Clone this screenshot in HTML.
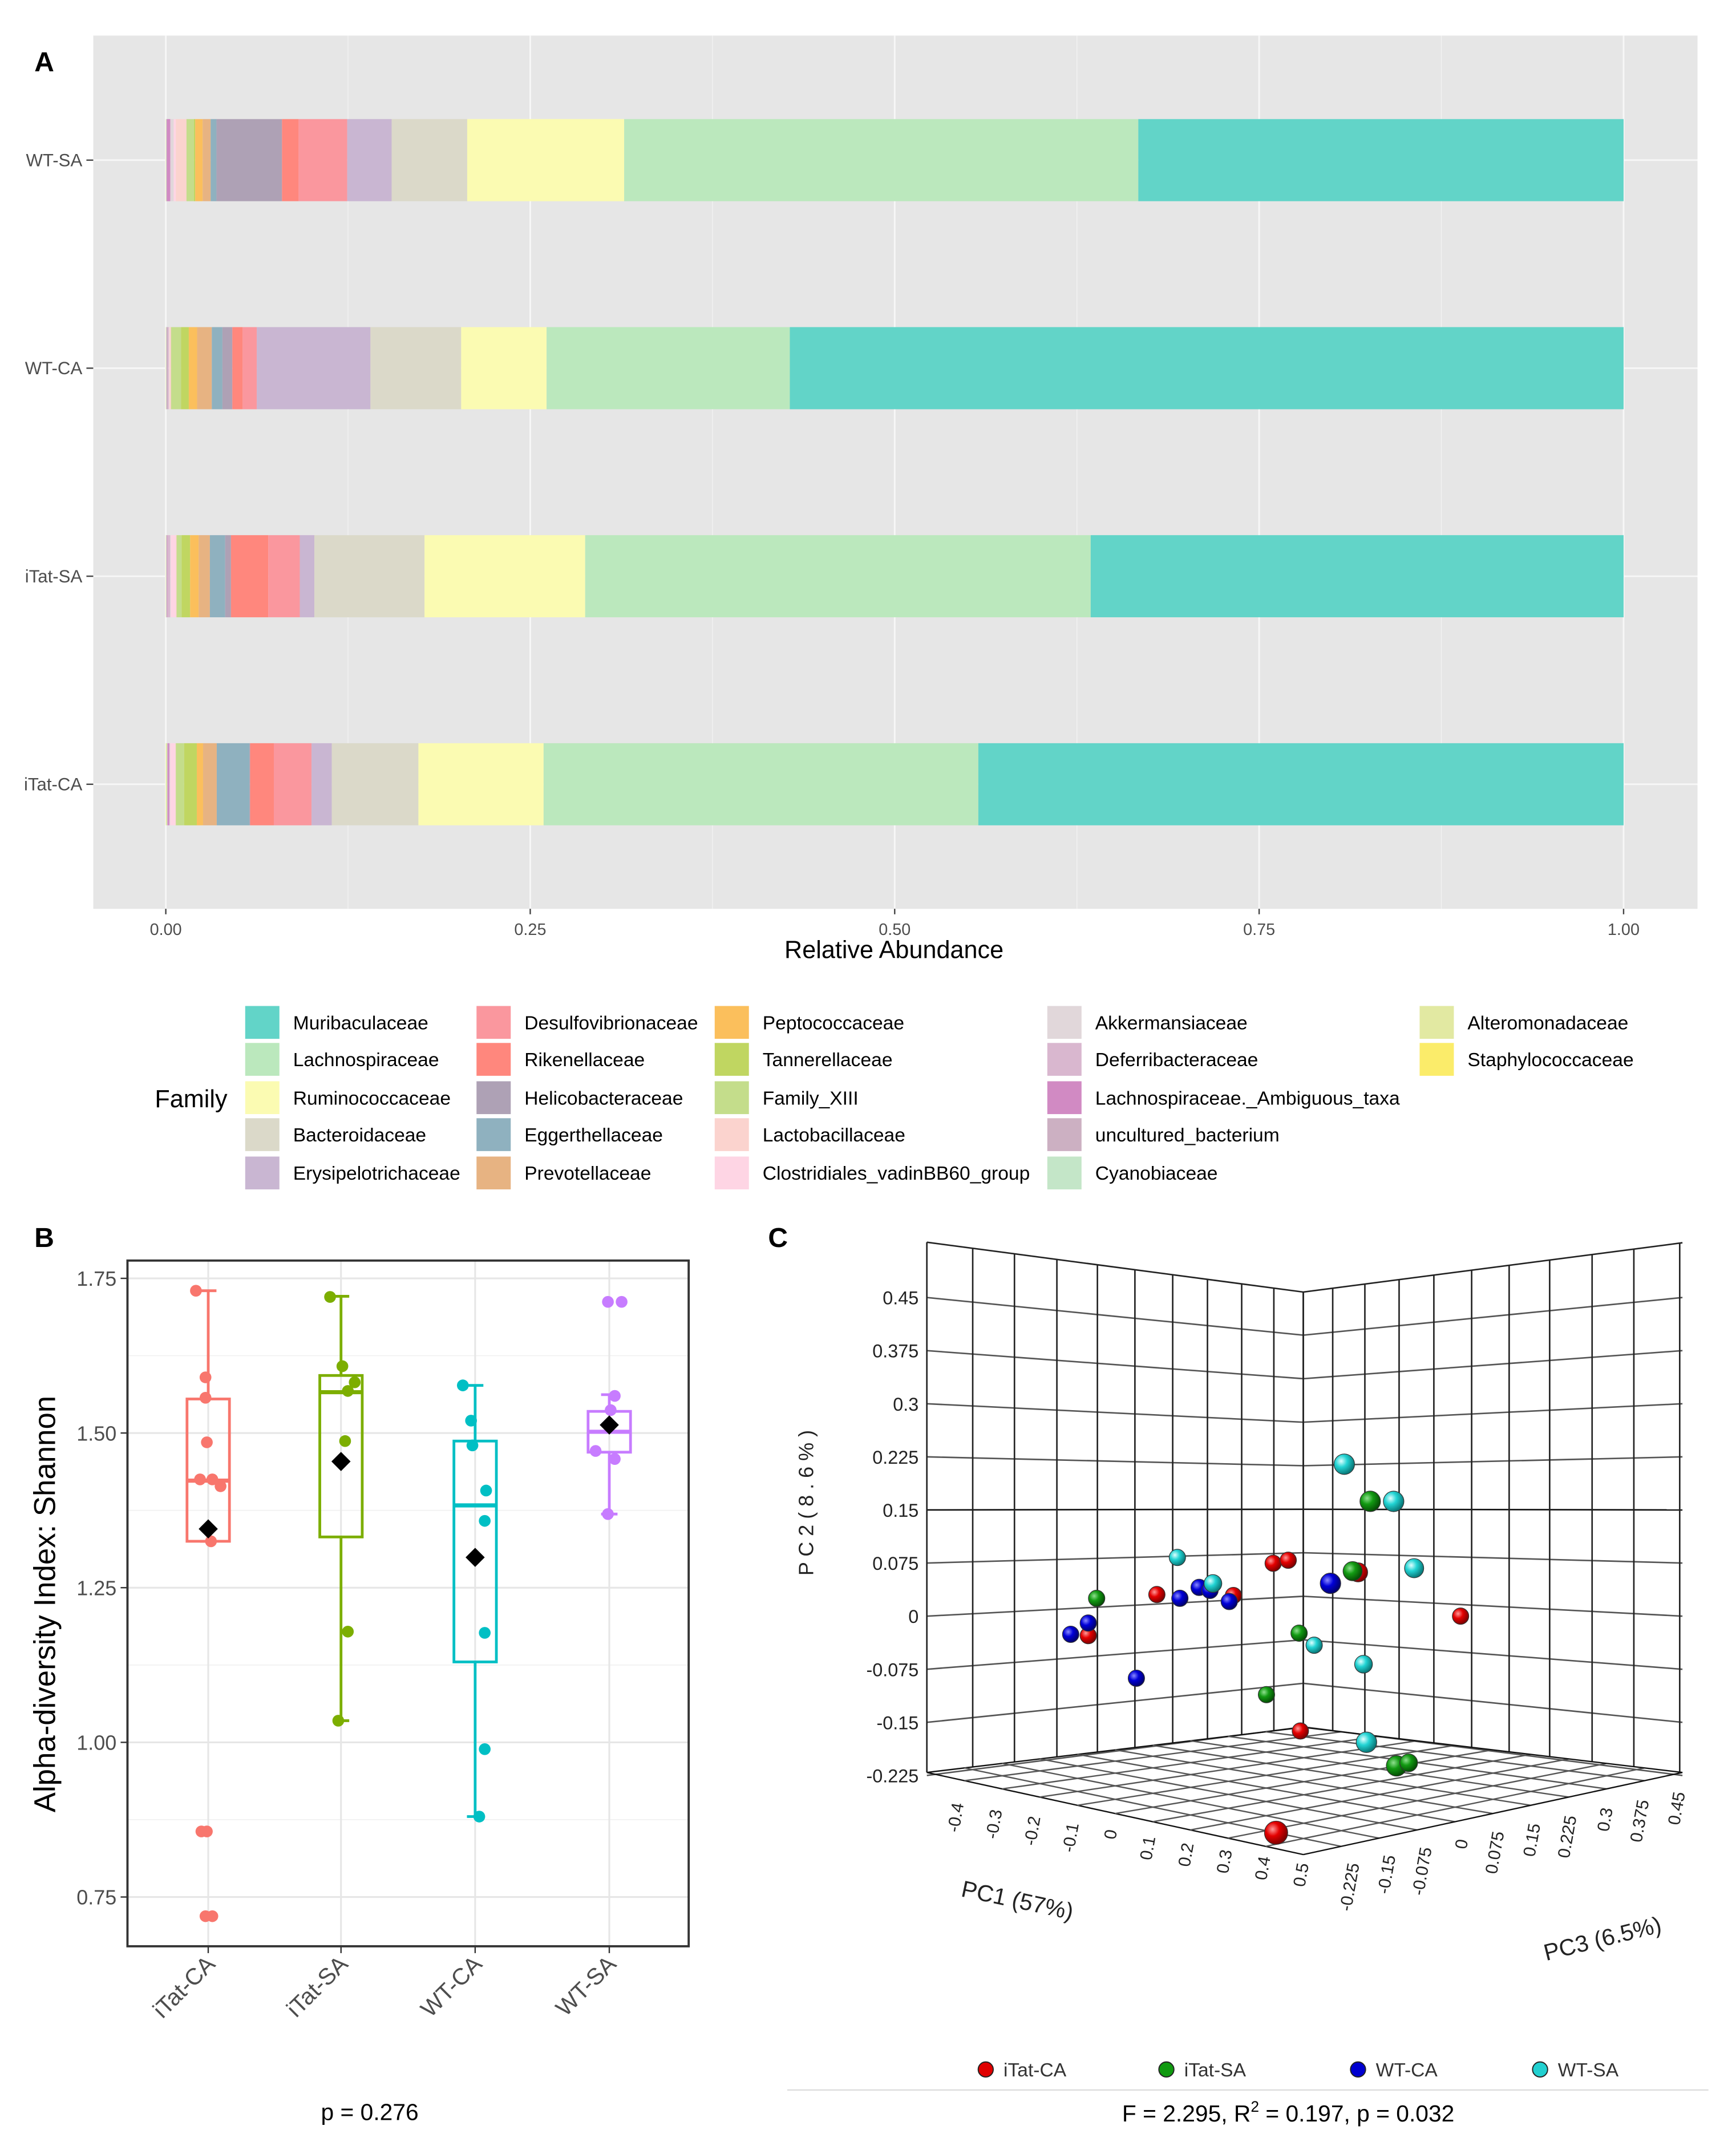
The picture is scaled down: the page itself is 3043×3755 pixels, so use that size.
<!DOCTYPE html>
<html><head><meta charset="utf-8">
<style>
html,body{margin:0;padding:0;background:#fff;}
svg{display:block;font-family:"Liberation Sans",Arial,sans-serif;}
</style></head>
<body>
<svg id="fig" xmlns="http://www.w3.org/2000/svg" width="3043" height="3755" viewBox="0 0 1268 1565">
<defs>
<radialGradient id="gRed" cx="35%" cy="35%" r="65%"><stop offset="0" stop-color="#ff9a9a"/><stop offset="0.45" stop-color="#e40000"/><stop offset="1" stop-color="#800000"/></radialGradient>
<radialGradient id="gGreen" cx="35%" cy="35%" r="65%"><stop offset="0" stop-color="#8fe08f"/><stop offset="0.45" stop-color="#129a12"/><stop offset="1" stop-color="#055005"/></radialGradient>
<radialGradient id="gBlue" cx="35%" cy="35%" r="65%"><stop offset="0" stop-color="#8a8aff"/><stop offset="0.45" stop-color="#0000d8"/><stop offset="1" stop-color="#000070"/></radialGradient>
<radialGradient id="gCyan" cx="35%" cy="35%" r="65%"><stop offset="0" stop-color="#e0ffff"/><stop offset="0.45" stop-color="#22d4d4"/><stop offset="1" stop-color="#0a7a7a"/></radialGradient>
</defs>
<g id="panelA"></g>
<g id="legendA"></g>
<g id="panelB"></g>
<g id="panelC"></g>
</svg>
<script>
// ---------- Panel A data ----------
const samples = ["WT-SA","WT-CA","iTat-SA","iTat-CA"];
const families = ["Muribaculaceae","Lachnospiraceae","Ruminococcaceae","Bacteroidaceae","Erysipelotrichaceae","Desulfovibrionaceae","Rikenellaceae","Helicobacteraceae","Eggerthellaceae","Prevotellaceae","Peptococcaceae","Tannerellaceae","Family_XIII","Lactobacillaceae","Clostridiales_vadinBB60_group","Akkermansiaceae","Deferribacteraceae","Lachnospiraceae._Ambiguous_taxa","uncultured_bacterium","Cyanobiaceae","Alteromonadaceae","Staphylococcaceae"];
const famColors = ["#62d4c8","#bbe8bd","#fbfbb2","#dbd9c9","#c9b6d2","#fa979e","#ff877d","#aea1b5","#8fb1bf","#e7b382","#fbbf5c","#c0d661","#c4dd8b","#fbd3ce","#fed5e4","#e1d7da","#d9b7cf","#d18ac3","#ccb0c2","#c4e6c8","#e2e9a2","#fbec6a"];
const abWTSA  = [0.3333,0.3531,0.1078,0.0519,0.0305,0.0334,0.0114,0.0450,0.0040,0.0055,0.0051,0.0009,0.0051,0.0073,0.0015,0.0020,0.0005,0.0022,0.0003,0.0002,0.0001,0.0001];
const abWTCA  = [0.5728,0.1671,0.0587,0.0623,0.0781,0.0097,0.0071,0.0068,0.0073,0.0101,0.0057,0.0053,0.0069,0.0010,0.0003,0.0003,0.0004,0.0002,0.0010,0.0002,0.0001,0.0001];
const abITSA  = [0.3662,0.3474,0.1104,0.0757,0.0100,0.0217,0.0256,0.0040,0.0105,0.0077,0.0059,0.0058,0.0035,0.0004,0.0036,0.0004,0.0019,0.0003,0.0004,0.0002,0.0001,0.0001];
const abITCA  = [0.4432,0.2986,0.0860,0.0595,0.0139,0.0259,0.0163,0.0004,0.0225,0.0094,0.0043,0.0087,0.0057,0.0003,0.0036,0.0003,0.0003,0.0012,0.0002,0.0002,0.0007,0.0001];
const abundance = [abWTSA,abWTCA,abITSA,abITCA];
const xTicksA = [0,0.25,0.5,0.75,1];
const xTickLabelsA = ["0.00","0.25","0.50","0.75","1.00"];

// ---------- Panel B data ----------
const groupsB = ["iTat-CA","iTat-SA","WT-CA","WT-SA"];
const colorsB = ["#f8766d","#7cae00","#00bfc4","#c77cff"];
const whiskHi = [1.73,1.721,1.577,1.562];
const boxHi   = [1.555,1.593,1.487,1.535];
const medians = [1.423,1.566,1.383,1.502];
const boxLo   = [1.325,1.332,1.130,1.469];
const whiskLo = [1.325,1.035,0.880,1.369];
const meansB  = [1.345,1.454,1.299,1.513];
const ptsITCA = [1.73,1.59,1.557,1.485,1.425,1.425,1.414,1.325,0.856,0.856,0.719,0.719];
const ptsITSA = [1.72,1.608,1.568,1.582,1.487,1.179,1.035];
const ptsWTCA = [1.577,1.52,1.48,1.407,1.358,1.177,0.989,0.880];
const ptsWTSA = [1.712,1.712,1.56,1.537,1.471,1.458,1.369];
const jitterB = [[-9,-2,-2,-1,-6,3,9,2,-5,-1,-2,3],[-8,1,5,10,3,5,-2],[-9,-3,-2,8,7,7,7,3],[-1,9,4,1,-10,4,-1]];
const ptsB = [ptsITCA,ptsITSA,ptsWTCA,ptsWTSA];
const yTicksB = [0.75,1.0,1.25,1.5,1.75];
const yTickLabelsB = ["0.75","1.00","1.25","1.50","1.75"];

// ---------- Panel C data ----------
const groupsC = ["iTat-CA","iTat-SA","WT-CA","WT-SA"];
const gradC = ["url(#gRed)","url(#gGreen)","url(#gBlue)","url(#gCyan)"];
const legColC = ["#e00000","#109a10","#0000d0","#22d0d0"];
const pcGroup = [0,0,0,0,0,0,0,0,0, 1,1,1,1,1,1,1, 2,2,2,2,2,2,2,2, 3,3,3,3,3,3,3,3];
const pc1 = [0.126,0.162,-0.152,0.031,-0.316,0.329,0.574,0.191,0.133, -0.296,0.358,0.316,0.188,0.110,0.421,0.450, -0.358,-0.316,-0.201,-0.097,-0.051,-0.025,0.021,0.263, 0.296,0.414,-0.103,-0.018,0.463,0.224,0.342,0.349];
const pc2 = [0.140,0.150,0.050,0.075,-0.039,0.155,0.121,-0.117,-0.287, 0.023,0.272,0.155,0.038,-0.071,-0.139,-0.130, -0.043,-0.019,-0.090,0.052,0.076,0.075,0.064,0.128, 0.322,0.280,0.116,0.087,0.181,0.024,0.011,-0.112];
const pc3 = [0,0,0,0,0,0,0,0,0, 0,0,0,0,0,0,0, 0,0,0,0,0,0,0,0, 0,0,0,0,0,0,0,0];
const ptSize = [6,6,6,6,6,7,6,6,8.5, 6,7.5,7,6,6,7.5,6.5, 6,6,6,6,6,6,6,7.5, 7.5,7.5,6,6.5,7,6,6.5,7.5];
const pc2Ticks = ["0.45","0.375","0.3","0.225","0.15","0.075","0","-0.075","-0.15","-0.225"];
const pc1Ticks = ["-0.4","-0.3","-0.2","-0.1","0","0.1","0.2","0.3","0.4","0.5"];
const pc3Ticks = ["-0.225","-0.15","-0.075","0","0.075","0.15","0.225","0.3","0.375","0.45"];

const NS="http://www.w3.org/2000/svg";
function mk(tag, attrs, parent){const e=document.createElementNS(NS,tag);for(const k in attrs)e.setAttribute(k,attrs[k]);parent.appendChild(e);return e;}
function txt(s, attrs, parent){const e=mk('text',attrs,parent);e.textContent=s;return e;}

// ================= Panel A =================
const A=document.getElementById('panelA');
const ax0=121, ax1=1186;
const xA=v=>ax0+v*(ax1-ax0);
const barY=[117,269,421,573];
let e;
e=mk('rect',{x:68,y:26,width:1172,height:638,fill:'#e6e6e6'},A);


for(let i=0;i<4;i++){
  const m=xA(xTicksA[i]+0.125);
  e=mk('line',{x1:m,x2:m,y1:26,y2:664,stroke:'#f2f2f2','stroke-width':0.6},A);
  
  
}
xTicksA.forEach((t,i)=>{
  e=mk('line',{x1:xA(t),x2:xA(t),y1:26,y2:664,stroke:'#f7f7f7','stroke-width':1.2},A);
  
  
  e=mk('line',{x1:xA(t),x2:xA(t),y1:664,y2:668,stroke:'#444','stroke-width':1},A);
  
  
  e=txt(xTickLabelsA[i],{x:xA(t),y:683,'font-size':12,fill:'#4d4d4d','text-anchor':'middle'},A);
  
  
});
samples.forEach((s,si)=>{
  e=mk('line',{x1:68,x2:1240,y1:barY[si],y2:barY[si],stroke:'#f7f7f7','stroke-width':1.2},A);
  
  
  e=mk('line',{x1:63,x2:68,y1:barY[si],y2:barY[si],stroke:'#444','stroke-width':1},A);
  
  
  e=txt(s,{x:60,y:barY[si]+4.5,'font-size':13,fill:'#4d4d4d','text-anchor':'end'},A);
  
  
  const vals=abundance[si];
  const tot=vals.reduce((a,b)=>a+b,0);
  let cum=0;
  for(let f=families.length-1;f>=0;f--){
    const v=vals[f]/tot;
    e=mk('rect',{x:xA(cum),y:barY[si]-30,width:Math.max(0,xA(cum+v)-xA(cum)),height:60,fill:famColors[f]},A);
    
    
    cum+=v;
  }
});
e=txt('Relative Abundance',{x:653,y:700,'font-size':18,fill:'#000','text-anchor':'middle'},A);


e=txt('A',{x:25,y:52,'font-size':20,'font-weight':'bold',fill:'#000'},A);



// ================= Legend A =================
const L=document.getElementById('legendA');
e=txt('Family',{x:113,y:809,'font-size':18,fill:'#000'},L);


const colX=[179,348,522,765,1037];
const rowY=[747,774,802,829,857];
families.forEach((f,i)=>{
  const c=Math.floor(i/5), r=i%5;
  e=mk('rect',{x:colX[c],y:rowY[r]-12,width:25,height:24,fill:famColors[i]},L);
  
  
  e=txt(f,{x:colX[c]+35,y:rowY[r]+5,'font-size':14,fill:'#000'},L);
  
  
});

// ================= Panel B =================
const B=document.getElementById('panelB');
const bx0=93,bx1=503,by0=921,by1=1422;
const yB=v=>1386-(v-0.75)*452;
const xCat=[152,249,347,445];
e=mk('rect',{x:bx0,y:by0,width:bx1-bx0,height:by1-by0,fill:'#fff'},B);


for(let i=0;i<yTicksB.length-1;i++){
  const m=yB(yTicksB[i]+0.125);
  e=mk('line',{x1:bx0,x2:bx1,y1:m,y2:m,stroke:'#f0f0f0','stroke-width':0.7},B);
  
  
}
yTicksB.forEach((t,i)=>{
  e=mk('line',{x1:bx0,x2:bx1,y1:yB(t),y2:yB(t),stroke:'#e6e6e6','stroke-width':1.3},B);
  
  
  e=mk('line',{x1:bx0-5,x2:bx0,y1:yB(t),y2:yB(t),stroke:'#333','stroke-width':1},B);
  
  
  e=txt(yTickLabelsB[i],{x:bx0-8,y:yB(t)+5.5,'font-size':15,fill:'#4d4d4d','text-anchor':'end'},B);
  
  
});
xCat.forEach(x=>{
  e=mk('line',{x1:x,x2:x,y1:by0,y2:by1,stroke:'#e6e6e6','stroke-width':1.3},B);
  
  
});
groupsB.forEach((g,i)=>{
  const x=xCat[i], c=colorsB[i], hw=15.5;
  e=mk('line',{x1:x,x2:x,y1:yB(whiskHi[i]),y2:yB(boxHi[i]),stroke:c,'stroke-width':2},B);
  
  
  e=mk('line',{x1:x,x2:x,y1:yB(boxLo[i]),y2:yB(whiskLo[i]),stroke:c,'stroke-width':2},B);
  
  
  e=mk('line',{x1:x-6,x2:x+6,y1:yB(whiskHi[i]),y2:yB(whiskHi[i]),stroke:c,'stroke-width':2},B);
  
  
  e=mk('line',{x1:x-6,x2:x+6,y1:yB(whiskLo[i]),y2:yB(whiskLo[i]),stroke:c,'stroke-width':2},B);
  
  
  e=mk('rect',{x:x-hw,y:yB(boxHi[i]),width:2*hw,height:yB(boxLo[i])-yB(boxHi[i]),fill:'#fff','fill-opacity':0,stroke:c,'stroke-width':2},B);
  
  
  e=mk('line',{x1:x-hw,x2:x+hw,y1:yB(medians[i]),y2:yB(medians[i]),stroke:c,'stroke-width':3},B);
  
  
  ptsB[i].forEach((v,j)=>{
    e=mk('circle',{cx:x+jitterB[i][j],cy:yB(v),r:4.3,fill:c},B);
    
    
  });
  const my=yB(meansB[i]);
  e=mk('polygon',{points:`${x},${my-7} ${x+7},${my} ${x},${my+7} ${x-7},${my}`,fill:'#000'},B);
  
  
  e=txt(g,{x:0,y:0,'font-size':17,fill:'#4d4d4d','text-anchor':'end',transform:`translate(${x+6},${by1+14}) rotate(-45)`},B);
  
  
  e=mk('line',{x1:x,x2:x,y1:by1,y2:by1+5,stroke:'#333','stroke-width':1},B);
  
  
});
e=mk('rect',{x:bx0,y:by0,width:bx1-bx0,height:by1-by0,fill:'none',stroke:'#333','stroke-width':1.6},B);


e=txt('Alpha-diversity Index: Shannon',{x:0,y:0,'font-size':22,fill:'#000','text-anchor':'middle',transform:'translate(40,1172) rotate(-90)'},B);


e=txt('B',{x:25,y:911,'font-size':20,'font-weight':'bold',fill:'#000'},B);


e=txt('p = 0.276',{x:270,y:1549,'font-size':17,fill:'#000','text-anchor':'middle'},B);



// ================= Panel C =================
const C=document.getElementById('panelC');
const lerp=(a,b,t)=>a+(b-a)*t;
const TL=[677,907.6],TC=[952,944],TR=[1229,908];
const BLc=[677,1295],BCc=[952,1262],BRc=[1229,1295],FR=[952,1355];
const wallVx=[677,710.5,741,772,801.6,829,856.6,882,907,930.5,952];
function line(x1,y1,x2,y2,col,w,name){
  const l=mk('line',{x1:x1,y1:y1,x2:x2,y2:y2,stroke:col,'stroke-width':w},C);
  
  
  return l;
}
line(TL[0],TL[1],TC[0],TC[1],'#222',1.1,'wall-top-edge');
line(TC[0],TC[1],TR[0],TR[1],'#222',1.1,'wall-top-edge');
pc2Ticks.forEach((t,i)=>{
  const yl=948+38.8*i, yc=975.5+31.8*i;
  const col = t==='0.15' ? '#111' : '#555';
  line(677,yl,952,yc,col,1.1,'left-wall-gridline');
  line(952,yc,1229,yl,col,1.1,'right-wall-gridline');
  e=txt(t,{x:671,y:yl+5,'font-size':13.5,fill:'#222','text-anchor':'end'},C);
  
  
});
wallVx.forEach(x=>{
  const t=(x-677)/(952-677);
  line(x,lerp(TL[1],TC[1],t),x,lerp(BLc[1],BCc[1],t),'#222',1.1,'left-wall-vertical');
  const xr=952+(952-x);
  line(xr,lerp(TR[1],TC[1],t),xr,lerp(BRc[1],BCc[1],t),'#222',1.1,'right-wall-vertical');
});
function floorP(u,w){
  const ax=lerp(BLc[0],FR[0],u), ay=lerp(BLc[1],FR[1],u);
  const bx=lerp(BCc[0],BRc[0],u), by=lerp(BCc[1],BRc[1],u);
  return [lerp(ax,bx,w),lerp(ay,by,w)];
}
for(let k=0;k<=10;k++){
  const a=floorP(k/10,0), b=floorP(k/10,1);
  line(a[0],a[1],b[0],b[1],k===0||k===10?'#111':'#555',1,'floor-gridline');
  const c2=floorP(0,k/10), d=floorP(1,k/10);
  line(c2[0],c2[1],d[0],d[1],k===0||k===10?'#111':'#555',1,'floor-gridline');
}
pc1Ticks.forEach((t,i)=>{
  const u=i/9;
  const x=lerp(700,952,u), y=lerp(1324,1368,u);
  e=txt(t,{x:0,y:0,'font-size':12.5,fill:'#222','text-anchor':'end',transform:`translate(${x+4},${y-6}) rotate(-80)`},C);
  
  
});
pc3Ticks.forEach((t,i)=>{
  const u=i/9;
  const x=lerp(989,1227,u), y=lerp(1362,1310,u);
  e=txt(t,{x:0,y:0,'font-size':12.5,fill:'#222','text-anchor':'end',transform:`translate(${x+4},${y}) rotate(-80)`},C);
  
  
});
const projX=(a,b,c)=>677+(a+0.4)*305.6+(c+0.225)*410;
const projY=(a,b,c)=>1295+(a+0.4)*66.7-(c+0.225)*89-(b+0.225)*460;
pc1.forEach((v,i)=>{
  e=mk('circle',{cx:projX(v,pc2[i],pc3[i]),cy:projY(v,pc2[i],pc3[i]),r:ptSize[i],fill:gradC[pcGroup[i]],stroke:'#333','stroke-width':0.5},C);
  
  
});
e=txt('P C 2   ( 8 . 6 % )',{x:0,y:0,'font-size':15,fill:'#222','text-anchor':'middle',transform:'translate(594,1098) rotate(-90)'},C);


e=txt('PC1 (57%)',{x:0,y:0,'font-size':17,fill:'#222','text-anchor':'middle',transform:'translate(742,1394) rotate(12)'},C);


e=txt('PC3 (6.5%)',{x:0,y:0,'font-size':17,fill:'#222','text-anchor':'middle',transform:'translate(1172,1422) rotate(-14)'},C);


e=txt('C',{x:561,y:911,'font-size':20,'font-weight':'bold',fill:'#000'},C);


const legX=[720,852,992,1125];
groupsC.forEach((g,i)=>{
  e=mk('circle',{cx:legX[i],cy:1512,r:5.5,fill:legColC[i],stroke:'#222','stroke-width':0.8},C);
  
  
  e=txt(g,{x:legX[i]+13,y:1517,'font-size':14,fill:'#333'},C);
  
  
});
line(575,1527,1248,1527,'#ddd',1,'legend-separator');
e=mk('text',{x:941,y:1550,'font-size':17,fill:'#000','text-anchor':'middle'},C);
e.innerHTML='F = 2.295, R<tspan dy="-7" font-size="11">2</tspan><tspan dy="7"> = 0.197, p = 0.032</tspan>';


</script>
</body></html>
